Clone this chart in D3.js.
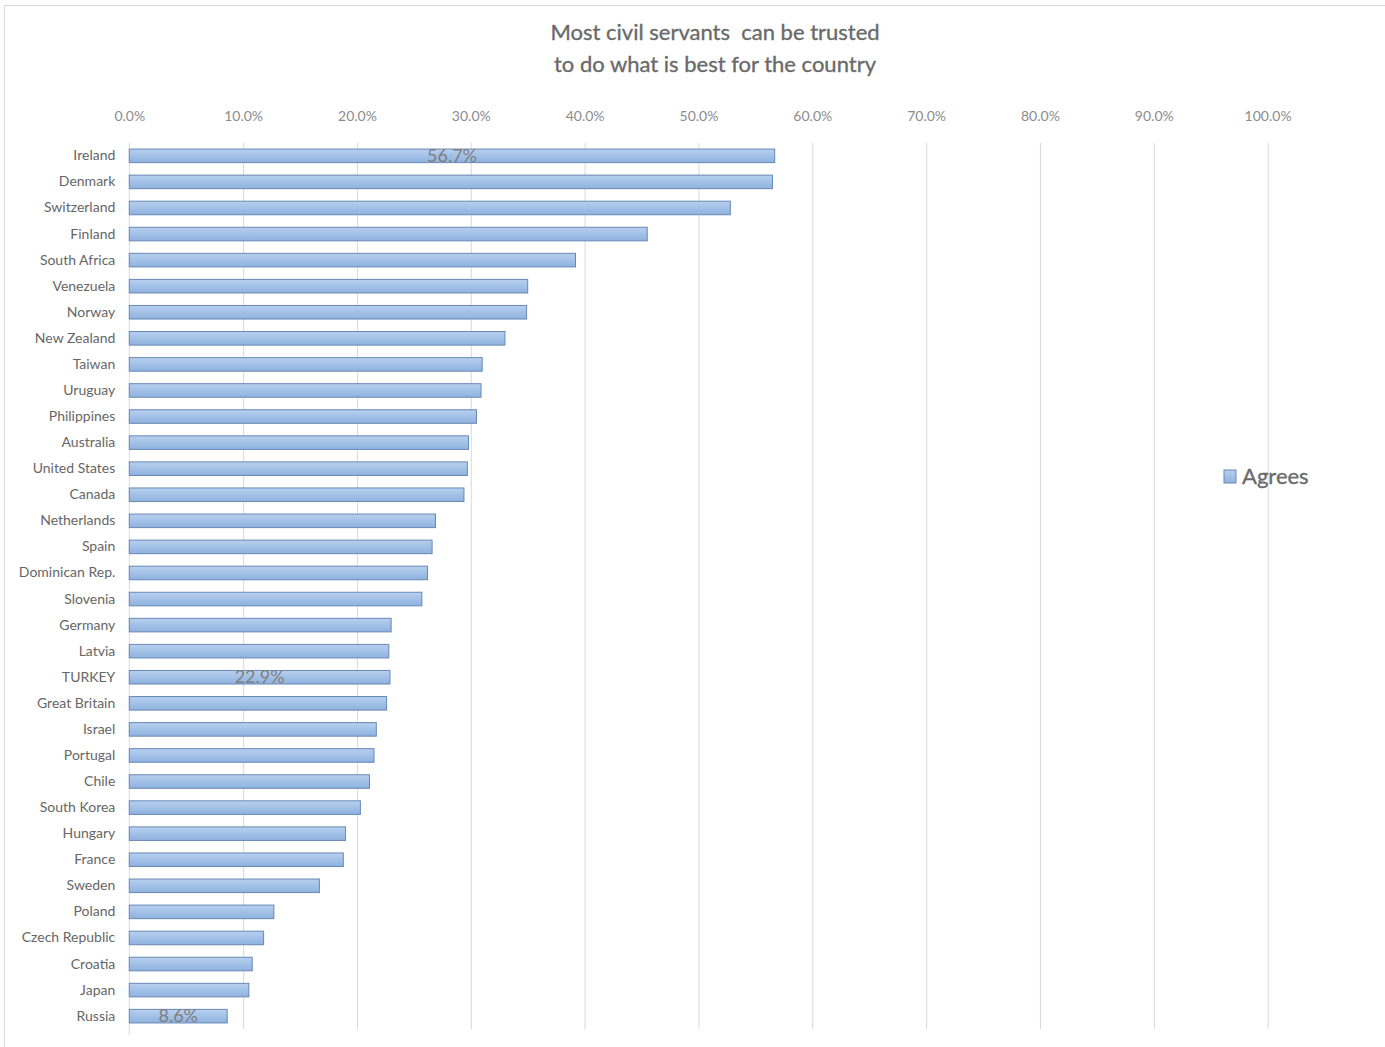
<!DOCTYPE html>
<html>
<head>
<meta charset="utf-8">
<script src="https://cdn.jsdelivr.net/npm/d3@7/dist/d3.min.js"></script>
<style>
  html, body { margin: 0; padding: 0; background: #fff; }
  svg { display: block; }
  text { font-family: Lato, "Open Sans", sans-serif; }
</style>
</head>
<body>
<svg id="chart" width="1385" height="1047"></svg>
<script>
// Share agreeing that most civil servants can be trusted, by country
const countries = [
  "Ireland", "Denmark", "Switzerland", "Finland", "South Africa", "Venezuela",
  "Norway", "New Zealand", "Taiwan", "Uruguay", "Philippines", "Australia",
  "United States", "Canada", "Netherlands", "Spain", "Dominican Rep.", "Slovenia",
  "Germany", "Latvia", "TURKEY", "Great Britain", "Israel", "Portugal", "Chile",
  "South Korea", "Hungary", "France", "Sweden", "Poland", "Czech Republic",
  "Croatia", "Japan", "Russia"
];
const agrees = [
  0.567, 0.565, 0.528, 0.455, 0.392, 0.350,
  0.349, 0.330, 0.310, 0.309, 0.305, 0.298,
  0.297, 0.294, 0.269, 0.266, 0.262, 0.257,
  0.230, 0.228, 0.229, 0.226, 0.217, 0.215, 0.211,
  0.203, 0.190, 0.188, 0.167, 0.127, 0.118,
  0.108, 0.105, 0.086
];
// Bars whose value is printed on the bar
const labelled = ["Ireland", "TURKEY", "Russia"];
const xTicks = [0, 0.1, 0.2, 0.3, 0.4, 0.5, 0.6, 0.7, 0.8, 0.9, 1.0];
const titleLines = ["Most civil servants  can be trusted", "to do what is best for the country"];
const seriesName = "Agrees";

const svg = d3.select("#chart");

const x = d3.scaleLinear().domain([0, 1]).range([129.3, 1267.6]);
const y = d3.scaleBand().domain(countries).range([142.8, 1029.2])
  .paddingInner(0.48).paddingOuter(0.24);

const defs = svg.append("defs");
const grad = defs.append("linearGradient").attr("id", "barFill")
  .attr("x1", 0).attr("y1", 0).attr("x2", 0).attr("y2", 1);
grad.append("stop").attr("offset", "0%").attr("stop-color", "#b8d0ef");
grad.append("stop").attr("offset", "100%").attr("stop-color", "#8eb2df");

// chart frame
svg.append("rect")
  .attr("x", 4.5).attr("y", 5.5).attr("width", 1400).attr("height", 1100)
  .attr("fill", "none").attr("stroke", "#d9d9d9");

// title
svg.append("g").selectAll("text").data(titleLines).join("text")
  .attr("x", 715).attr("y", (d, i) => 40 + i * 32)
  .attr("text-anchor", "middle")
  .attr("font-size", 22).attr("fill", "#6a6a6a")
  .attr("stroke", "#6a6a6a").attr("stroke-width", 0.35)
  .style("white-space", "pre")
  .text(d => d);

// vertical gridlines
svg.append("g")
  .attr("transform", `translate(0,${y.range()[0]})`)
  .call(d3.axisBottom(x).tickValues(xTicks.slice(1)).tickSize(y.range()[1] - y.range()[0]).tickFormat(""))
  .call(g => g.select(".domain").remove())
  .call(g => g.selectAll("line").attr("stroke", "#d9d9d9"));

// value axis labels at top
svg.append("g")
  .attr("transform", "translate(0,121)")
  .call(d3.axisTop(x).tickValues(xTicks).tickSize(0).tickPadding(0).tickFormat(d3.format(".1%")))
  .call(g => g.select(".domain").remove())
  .call(g => g.selectAll("text").attr("font-size", 14).attr("fill", "#8c8c8c")
    .style("font-family", "Lato, sans-serif"));

// category axis
svg.append("g")
  .attr("transform", `translate(${x(0)},0)`)
  .call(d3.axisLeft(y).tickSize(0).tickPadding(14))
  .call(g => g.select(".domain").attr("stroke", "#d5dde8").attr("d", `M0,${y.range()[0]}V${y.range()[1] + 6}`))
  .call(g => g.selectAll("text").attr("font-size", 14).attr("fill", "#666")
    .style("font-family", "Lato, sans-serif"));

const rows = countries.map((c, i) => ({ country: c, value: agrees[i] }));

// bars
svg.append("g").selectAll("rect").data(rows).join("rect")
  .attr("x", x(0))
  .attr("y", d => y(d.country))
  .attr("width", d => x(d.value) - x(0))
  .attr("height", y.bandwidth())
  .attr("fill", "url(#barFill)")
  .attr("stroke", "#6888b4").attr("stroke-width", 1);

// value labels centred on selected bars
svg.append("g").selectAll("text").data(rows.filter(d => labelled.includes(d.country))).join("text")
  .attr("x", d => (x(0) + x(d.value)) / 2)
  .attr("y", d => y(d.country) + y.bandwidth() / 2 + 6)
  .attr("text-anchor", "middle")
  .attr("font-size", 18).attr("fill", "#7f7f7f")
  .text(d => d3.format(".1%")(d.value));

// legend
const legend = svg.append("g").attr("transform", "translate(1224,470)");
legend.append("rect").attr("width", 12).attr("height", 13)
  .attr("fill", "url(#barFill)").attr("stroke", "#6888b4");
legend.append("text").attr("x", 18).attr("y", 14)
  .attr("font-size", 22).attr("fill", "#6a6a6a")
  .attr("stroke", "#6a6a6a").attr("stroke-width", 0.35)
  .text(seriesName);
</script>
</body>
</html>
